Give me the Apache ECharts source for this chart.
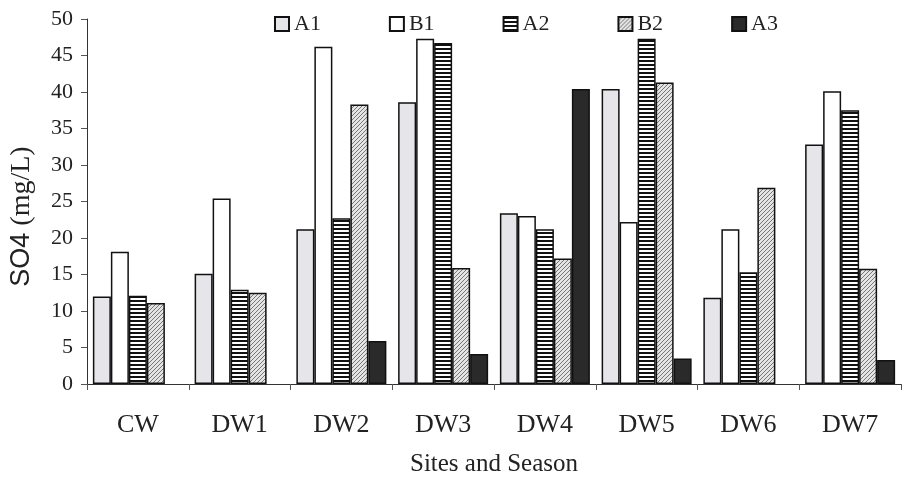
<!DOCTYPE html>
<html><head><meta charset="utf-8">
<script src="https://cdn.jsdelivr.net/npm/echarts@6/dist/echarts.min.js"></script>
<style>html,body{margin:0;padding:0;background:#fff}#c{width:902px;height:484px}</style>
</head><body><div id="c"></div>
<script>
const categories = ['CW','DW1','DW2','DW3','DW4','DW5','DW6','DW7'];
const seriesNames = ['A1','B1','A2','B2','A3'];
const A1 = [12, 15.1, 21.2, 38.6, 23.4, 40.4, 11.8, 32.8];
const B1 = [18.1, 25.4, 46.2, 47.3, 23.0, 22.2, 21.2, 40.1];
const A2 = [12.1, 12.9, 22.7, 46.7, 21.2, 47.3, 15.3, 37.5];
const B2 = [11.1, 12.5, 38.3, 15.9, 17.2, 41.3, 26.9, 15.8];
const A3 = [null, null, 5.9, 4.1, 40.4, 3.5, null, 3.3];
const yTicks = [0,5,10,15,20,25,30,35,40,45,50];

function stripes(){
  const c=document.createElement('canvas');c.width=4;c.height=4;
  const g=c.getContext('2d');g.fillStyle='#fff';g.fillRect(0,0,4,4);
  g.fillStyle='#111';g.fillRect(0,0,4,2);return c;
}
function hatch(){
  const c=document.createElement('canvas');c.width=4;c.height=4;
  const g=c.getContext('2d');g.fillStyle='#e4e4e4';g.fillRect(0,0,4,4);
  g.strokeStyle='#777';g.lineWidth=1;
  g.beginPath();g.moveTo(0,4);g.lineTo(4,0);g.moveTo(-1,1);g.lineTo(1,-1);g.moveTo(3,5);g.lineTo(5,3);g.stroke();
  return c;
}
const fills = ['#e6e6ea','#ffffff',{image:stripes(),repeat:'repeat'},{image:hatch(),repeat:'repeat'},'#2a2a2a'];
const data = [A1,B1,A2,B2,A3];
const font = 'Liberation Serif';
const chart = echarts.init(document.getElementById('c'));
chart.setOption({
  animation:false,
  legend:{
    top:8,left:269,itemGap:68,itemWidth:14,itemHeight:14,icon:'rect',
    textStyle:{fontFamily:font,fontSize:22,color:'#222'},
    data:seriesNames
  },
  grid:{left:83,top:19,width:818,bottom:100,containLabel:false},
  xAxis:{
    type:'category',data:categories,
    axisLine:{lineStyle:{color:'#333',width:1}},
    axisTick:{show:true,alignWithLabel:false,length:6,lineStyle:{color:'#555'}},
    axisLabel:{fontFamily:font,fontSize:26,color:'#222',margin:28},
    name:'Sites and Season',nameLocation:'middle',nameGap:68,
    nameTextStyle:{fontFamily:font,fontSize:25,color:'#222'}
  },
  yAxis:{
    type:'value',min:0,max:50,interval:5,
    splitLine:{show:false},
    axisLine:{show:true,lineStyle:{color:'#333'}},
    axisTick:{show:true,length:6,lineStyle:{color:'#555'}},
    axisLabel:{fontFamily:font,fontSize:22,color:'#222',margin:14,
      formatter:v=>yTicks.includes(v)?String(v):''},
    name:'{a|SO4}{s|\u00a0}{b|(mg/L)}',nameLocation:'middle',nameGap:51,nameRotate:90,
    nameTextStyle:{padding:[0,30,0,0],rich:{
      a:{fontFamily:'Liberation Sans',fontSize:27,color:'#222'},
      s:{fontFamily:font,fontSize:28},
      b:{fontFamily:font,fontSize:28,color:'#222'}}}
  },
  series:seriesNames.map((n,i)=>({
    name:n,type:'bar',data:data[i],barWidth:18,barGap:'0%',
    itemStyle:{color:fills[i],borderColor:'#111',borderWidth:1.5}
  }))
});
</script></body></html>
